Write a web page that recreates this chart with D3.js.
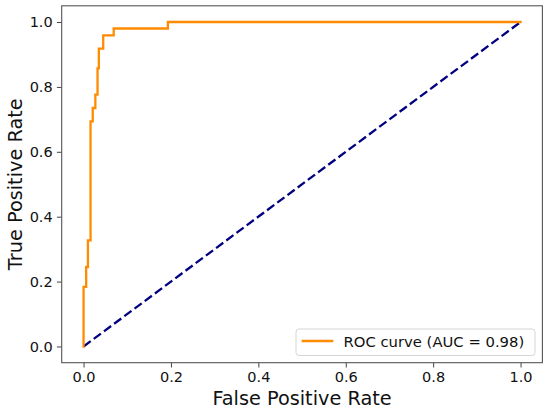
<!DOCTYPE html>
<html>
<head>
<meta charset="utf-8">
<script src="https://cdn.jsdelivr.net/npm/d3@7"></script>
<style>
body{margin:0;background:#fff;}
svg{display:block;font-family:"DejaVu Sans",sans-serif;}
</style>
</head>
<body>
<svg id="chart" width="550" height="412"></svg>
<script>
const fpr = [0.0, 0.0, 0.006, 0.006, 0.010, 0.010, 0.016, 0.016, 0.021, 0.021, 0.027, 0.027, 0.032, 0.032, 0.035, 0.035, 0.045, 0.045, 0.069, 0.069, 0.193, 0.193, 1.0];
const tpr = [0.0, 0.184, 0.184, 0.245, 0.245, 0.327, 0.327, 0.694, 0.694, 0.735, 0.735, 0.776, 0.776, 0.857, 0.857, 0.918, 0.918, 0.959, 0.959, 0.980, 0.980, 1.0, 1.0];
const diagX = [0, 1];
const diagY = [0, 1];
const tickVals = [0.0, 0.2, 0.4, 0.6, 0.8, 1.0];
const legendLabel = "ROC curve (AUC = 0.98)";

const svg = d3.select("#chart");
const L = 61.7, R = 542.4, T = 5.8, B = 362.7;
const x = d3.scaleLinear().domain([-0.05, 1.05]).range([L, R]);
const y = d3.scaleLinear().domain([-0.05, 1.05]).range([B, T]);

const line = d3.line().x(d => x(d[0])).y(d => y(d[1]));

// curves
svg.append("path")
  .datum(diagX.map((v, i) => [v, diagY[i]]))
  .attr("d", line).attr("fill", "none")
  .attr("stroke", "#000080").attr("stroke-width", 2.3)
  .attr("stroke-dasharray", "8.9,3.8");

svg.append("path")
  .datum(fpr.map((v, i) => [v, tpr[i]]))
  .attr("d", line).attr("fill", "none")
  .attr("stroke", "#ff8c00").attr("stroke-width", 2.3)
  .attr("stroke-linejoin", "miter").attr("stroke-linecap", "square");

// axes
const xAxis = d3.axisBottom(x).tickValues(tickVals).tickFormat(d3.format(".1f")).tickSize(4.8).tickPadding(4.2);
const yAxis = d3.axisLeft(y).tickValues(tickVals).tickFormat(d3.format(".1f")).tickSize(4.8).tickPadding(4.2);

const gx = svg.append("g").attr("transform", `translate(0,${B})`).call(xAxis);
const gy = svg.append("g").attr("transform", `translate(${L},0)`).call(yAxis);
[gx, gy].forEach(g => {
  g.select(".domain").remove();
  g.selectAll(".tick line").attr("stroke", "#444").attr("stroke-width", 1);
  g.selectAll(".tick text").attr("font-family", "DejaVu Sans").attr("font-size", 14.5).attr("fill", "#111");
});

// frame
svg.append("rect").attr("x", L).attr("y", T).attr("width", R - L).attr("height", B - T)
  .attr("fill", "none").attr("stroke", "#555").attr("stroke-width", 1.1);

// axis labels
svg.append("text").attr("x", (L + R) / 2).attr("y", 404.5)
  .attr("text-anchor", "middle").attr("font-size", 19.3).attr("fill", "#111").text("False Positive Rate");
svg.append("text").attr("transform", `translate(21.7,${(T + B) / 2}) rotate(-90)`)
  .attr("text-anchor", "middle").attr("font-size", 19.3).attr("fill", "#111").text("True Positive Rate");

// legend
const lg = svg.append("g");
lg.append("rect").attr("x", 296).attr("y", 329).attr("width", 239).attr("height", 26.5)
  .attr("rx", 3).attr("fill", "#fff").attr("fill-opacity", 0.8).attr("stroke", "#d5d5d5").attr("stroke-width", 1);
lg.append("line").attr("x1", 301.7).attr("x2", 333.3).attr("y1", 341).attr("y2", 341)
  .attr("stroke", "#ff8c00").attr("stroke-width", 2.3);
lg.append("text").attr("x", 343.5).attr("y", 346.5).attr("font-size", 14.8).attr("fill", "#111").text(legendLabel);
</script>
</body>
</html>
